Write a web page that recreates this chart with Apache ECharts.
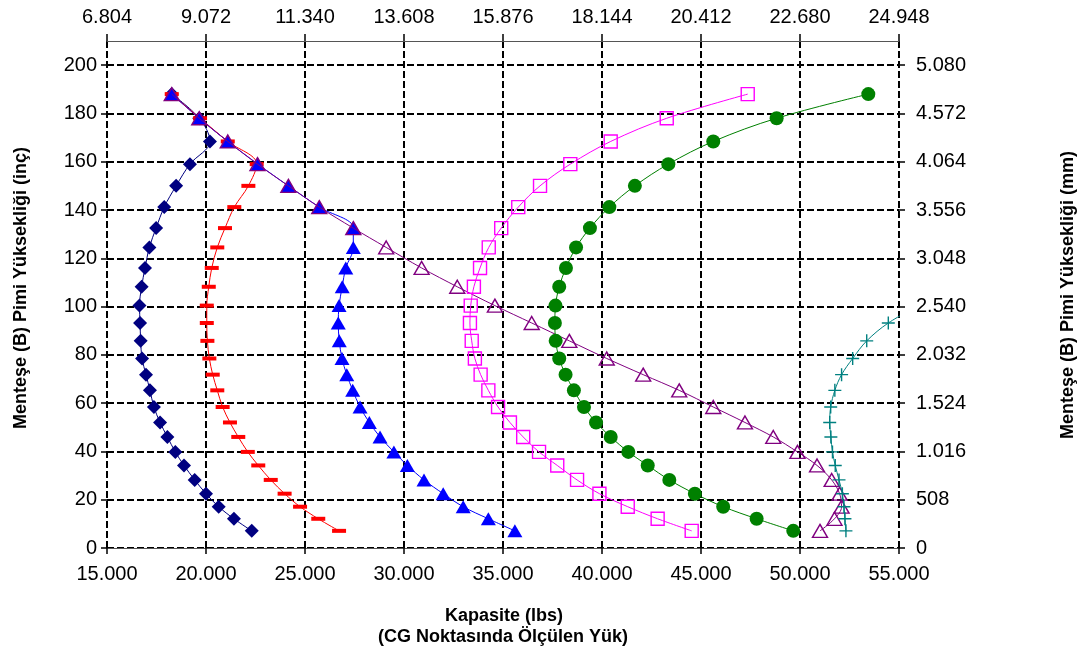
<!DOCTYPE html>
<html>
<head>
<meta charset="utf-8">
<script src="https://cdn.jsdelivr.net/npm/echarts@6/dist/echarts.min.js"></script>
<style>
html,body{margin:0;padding:0;background:#fff;}
#chart{width:1087px;height:652px;}
</style>
</head>
<body>
<div id="chart"></div>
<script>
// ---- data ----
const heightsIn = [188, 178, 168.4, 159, 150, 141.2, 132.5, 124.5, 116, 108.2, 100.4, 93.2, 85.8,
  78.5, 71.8, 65.3, 58.4, 52, 46, 39.8, 34.2, 28.2, 22.5, 17.1, 12.1, 7.1];
const navyLbs = [18270, 19660, 20200, 19190, 18490, 17890, 17480, 17140, 16920, 16750, 16640, 16670, 16700,
  16770, 16970, 17170, 17370, 17680, 18050, 18450, 18890, 19430, 20000, 20640, 21410, 22310];
const redLbs = [18270, 19700, 21100, 22560, 22140, 21430, 20960, 20570, 20290, 20140, 20040, 20040, 20070,
  20170, 20340, 20570, 20840, 21210, 21630, 22110, 22640, 23270, 23970, 24750, 25670, 26720];
const blueLbs = [18270, 19660, 21100, 22620, 24160, 25720, 27440, 27440, 27060, 26880, 26720, 26680, 26730,
  26870, 27110, 27410, 27780, 28250, 28790, 29490, 30170, 31010, 31980, 32990, 34260, 35600];
const purpleLbs = [18270, 19660, 21100, 22600, 24160, 25720, 27440, 29100, 30890, 32690, 34590, 36450, 38350,
  40240, 42080, 43900, 45620, 47220, 48650, 49870, 50860, 51600, 52000, 52100, 51740, 51010];
const magentaLbs = [47360, 43270, 40440, 38400, 36870, 35770, 34910, 34280, 33840, 33530, 33370, 33330, 33420,
  33580, 33870, 34260, 34750, 35350, 36020, 36820, 37740, 38740, 39870, 41300, 42810, 44530];
const greenLbs = [53450, 48820, 45620, 43350, 41660, 40370, 39390, 38690, 38180, 37840, 37650, 37620, 37660,
  37840, 38160, 38580, 39090, 39700, 40440, 41330, 42310, 43400, 44690, 46120, 47810, 49660];
const tealHeightsIn = [100.4, 93.2, 85.8, 78.5, 71.8, 65.3, 58.4, 52, 46, 39.8, 34.2, 28.2, 22.5, 17.1, 12.1, 7.1];
const tealLbs = [56000, 54460, 53370, 52660, 52100, 51760, 51550, 51500, 51560, 51640, 51780, 51970, 52140,
  52220, 52270, 52320];

// axis scales
const lbsMin = 15000, lbsMax = 55000, lbsStep = 5000;
const kgMin = 6804, kgMax = 24948, kgStep = 2268;
const inMin = 0, inMax = 210, inStep = 20;
const mmMin = 0, mmMax = 5334, mmStep = 508;

const xTitle1 = 'Kapasite (lbs)';
const xTitle2 = '(CG Noktasında Ölçülen Yük)';
const yTitleLeft = 'Menteşe (B) Pimi Yüksekliği (inç)';
const yTitleRight = 'Menteşe (B) Pimi Yüksekliği (mm)';

// ---- chart ----
const FONT = '"Liberation Sans", Arial, sans-serif';
function fmt(v) {
  v = Math.round(v);
  return String(v).replace(/\B(?=(\d{3})+(?!\d))/g, '.');
}
function pairs(xs, ys) { return xs.map((x, i) => [x, ys[i]]); }

const gridLine = { show: true, lineStyle: { color: '#000', width: 2, type: [7, 3] } };
const labelStyle = { fontSize: 20, color: '#000', fontFamily: FONT };

function series(name, xs, ys, color, symbol, size, hollow, z) {
  return {
    name, type: 'line', data: pairs(xs, ys), z: z,
    smooth: 0.35, showSymbol: true, showAllSymbol: true, clip: true,
    symbol, symbolSize: size,
    lineStyle: { color, width: 1 },
    itemStyle: hollow
      ? { color: 'rgba(0,0,0,0)', borderColor: color, borderWidth: 1.4 }
      : { color, borderWidth: 0 },
    emphasis: { disabled: true },
    animation: false
  };
}

const chart = echarts.init(document.getElementById('chart'), null, { renderer: 'canvas' });
chart.setOption({
  animation: false,
  backgroundColor: '#fff',
  grid: { left: 107, right: 188, top: 41, bottom: 104, containLabel: false },
  xAxis: [
    {
      type: 'value', position: 'bottom', min: lbsMin, max: lbsMax, interval: lbsStep,
      axisLine: { show: true, onZero: false, lineStyle: { color: '#555', width: 1 } },
      axisTick: { show: true, inside: false, length: 6, lineStyle: { color: '#000', width: 1.5 } },
      axisLabel: Object.assign({ margin: 16, formatter: fmt }, labelStyle),
      splitLine: gridLine
    },
    {
      type: 'value', position: 'top', min: kgMin, max: kgMax, interval: kgStep,
      axisLine: { show: true, onZero: false, lineStyle: { color: '#555', width: 1 } },
      axisTick: { show: true, inside: false, length: 7, lineStyle: { color: '#000', width: 1.5 } },
      axisLabel: Object.assign({ margin: 14, formatter: fmt }, labelStyle),
      splitLine: { show: false }
    }
  ],
  yAxis: [
    {
      type: 'value', position: 'left', min: inMin, max: inMax, interval: inStep,
      axisLine: { show: false },
      axisTick: { show: true, inside: false, length: 6, lineStyle: { color: '#000', width: 1.5 } },
      axisLabel: Object.assign({ margin: 10, formatter: fmt, showMaxLabel: false }, labelStyle),
      splitLine: Object.assign({ showMaxLine: false }, gridLine)
    },
    {
      type: 'value', position: 'right', min: mmMin, max: mmMax, interval: mmStep,
      axisLine: { show: false },
      axisTick: { show: true, inside: false, length: 6, lineStyle: { color: '#000', width: 1.5 } },
      axisLabel: Object.assign({ margin: 17, formatter: fmt, showMaxLabel: false }, labelStyle),
      splitLine: { show: false }
    }
  ],
  series: [
    series('navy', navyLbs, heightsIn, '#000080', 'diamond', 14, false, 2),
    series('red', redLbs, heightsIn, '#FF0000', 'rect', [14, 4], false, 3),
    series('blue', blueLbs, heightsIn, '#0000FF', 'triangle', [15, 13], false, 4),
    series('purple', purpleLbs, heightsIn, '#800080', 'triangle', [15, 13], true, 5),
    series('magenta', magentaLbs, heightsIn, '#FF00FF', 'rect', 13, true, 6),
    series('green', greenLbs, heightsIn, '#008000', 'circle', 14, false, 7),
    series('teal', tealLbs, tealHeightsIn, '#008080', 'path://M0,5L10,5M5,0L5,10', 13, true, 8)
  ],
  graphic: [
    { type: 'text', x: 504, y: 616, style: { text: xTitle1, font: 'bold 18px ' + FONT, fill: '#000', align: 'center', verticalAlign: 'middle' } },
    { type: 'text', x: 503, y: 637, style: { text: xTitle2, font: 'bold 18px ' + FONT, fill: '#000', align: 'center', verticalAlign: 'middle' } },
    { type: 'text', x: 21, y: 288, rotation: Math.PI / 2, style: { text: yTitleLeft, font: 'bold 18px ' + FONT, fill: '#000', align: 'center', verticalAlign: 'middle' } },
    { type: 'text', x: 1068, y: 295, rotation: Math.PI / 2, style: { text: yTitleRight, font: 'bold 18px ' + FONT, fill: '#000', align: 'center', verticalAlign: 'middle' } }
  ]
});
</script>
</body>
</html>
